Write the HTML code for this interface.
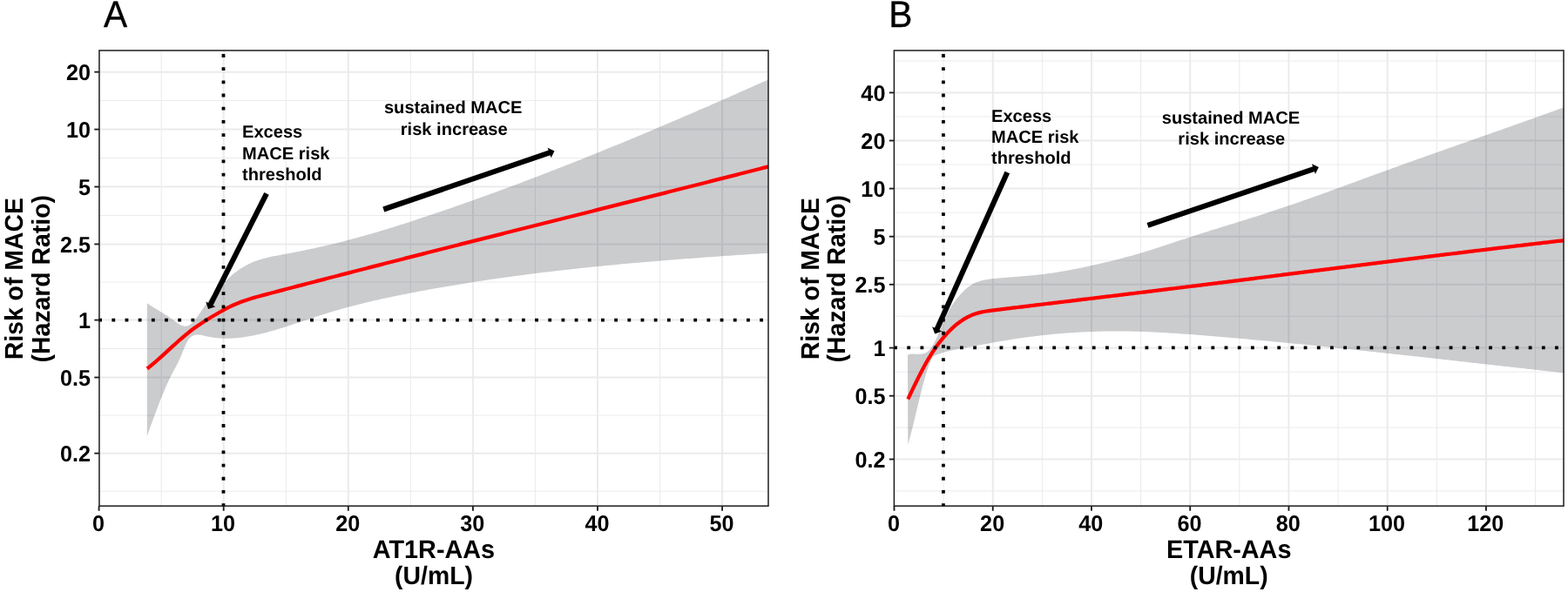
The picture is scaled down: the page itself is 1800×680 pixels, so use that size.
<!DOCTYPE html>
<html lang="en">
<head>
<meta charset="utf-8">
<title>Risk of MACE by AT1R-AAs and ETAR-AAs</title>
<style>
html,body{margin:0;padding:0;background:#fff;}
body{width:1800px;height:680px;overflow:hidden;}
svg{display:block;}
text{font-family:'Liberation Sans', Arial, Helvetica, sans-serif;fill:#000;font-kerning:none;text-rendering:geometricPrecision;}
.tl{font-size:25.2px;font-weight:bold;}
.at{font-size:28.4px;font-weight:bold;}
.ax{font-size:28.8px;font-weight:bold;font-kerning:normal;}
.an{font-size:20.1px;font-weight:bold;}
.tag{font-size:40.7px;font-weight:normal;stroke:#000;stroke-width:0.35px;}
</style>
</head>
<body>
<svg width="1800" height="680" viewBox="0 0 1800 680">
<rect x="0" y="0" width="1800" height="680" fill="#fff"/>
<g>
<rect x="113.95" y="58" width="768.05" height="523.2" fill="#fff"/>
<g class="grid"><line x1="113.95" x2="882" y1="115.64" y2="115.64" stroke="#ebebee" stroke-width="1"/><line x1="113.95" x2="882" y1="181.56" y2="181.56" stroke="#ebebee" stroke-width="1"/><line x1="113.95" x2="882" y1="247.49" y2="247.49" stroke="#ebebee" stroke-width="1"/><line x1="113.95" x2="882" y1="324.03" y2="324.03" stroke="#ebebee" stroke-width="1"/><line x1="113.95" x2="882" y1="400.56" y2="400.56" stroke="#ebebee" stroke-width="1"/><line x1="113.95" x2="882" y1="477.1" y2="477.1" stroke="#ebebee" stroke-width="1"/><line x1="113.95" x2="882" y1="564.25" y2="564.25" stroke="#ebebee" stroke-width="1"/><line x1="185.15" x2="185.15" y1="58" y2="581.2" stroke="#ebebee" stroke-width="1"/><line x1="328.25" x2="328.25" y1="58" y2="581.2" stroke="#ebebee" stroke-width="1"/><line x1="471.35" x2="471.35" y1="58" y2="581.2" stroke="#ebebee" stroke-width="1"/><line x1="614.45" x2="614.45" y1="58" y2="581.2" stroke="#ebebee" stroke-width="1"/><line x1="757.55" x2="757.55" y1="58" y2="581.2" stroke="#ebebee" stroke-width="1"/><line x1="113.95" x2="882" y1="82.67" y2="82.67" stroke="#ebebee" stroke-width="2"/><line x1="113.95" x2="882" y1="148.6" y2="148.6" stroke="#ebebee" stroke-width="2"/><line x1="113.95" x2="882" y1="214.53" y2="214.53" stroke="#ebebee" stroke-width="2"/><line x1="113.95" x2="882" y1="280.45" y2="280.45" stroke="#ebebee" stroke-width="2"/><line x1="113.95" x2="882" y1="367.6" y2="367.6" stroke="#ebebee" stroke-width="2"/><line x1="113.95" x2="882" y1="433.53" y2="433.53" stroke="#ebebee" stroke-width="2"/><line x1="113.95" x2="882" y1="520.67" y2="520.67" stroke="#ebebee" stroke-width="2"/><line x1="256.7" x2="256.7" y1="58" y2="581.2" stroke="#ebebee" stroke-width="2"/><line x1="399.8" x2="399.8" y1="58" y2="581.2" stroke="#ebebee" stroke-width="2"/><line x1="542.9" x2="542.9" y1="58" y2="581.2" stroke="#ebebee" stroke-width="2"/><line x1="686" x2="686" y1="58" y2="581.2" stroke="#ebebee" stroke-width="2"/><line x1="829.1" x2="829.1" y1="58" y2="581.2" stroke="#ebebee" stroke-width="2"/></g>
<path class="ribbon" d="M168.8 348.2 L171.8 350.2 L174.79 352.13 L177.79 354 L180.79 355.84 L183.78 357.68 L186.78 359.53 L189.78 361.42 L192.77 363.37 L195.77 365.4 L198.77 367.54 L201.76 369.76 L204.76 371.86 L207.76 373.56 L210.75 374.62 L213.75 374.77 L216.75 373.78 L219.74 371.68 L222.74 368.69 L225.74 364.99 L228.73 360.82 L231.73 356.37 L234.73 351.85 L237.72 347.47 L240.72 343.34 L243.72 339.45 L246.71 335.8 L249.71 332.37 L252.71 329.15 L255.7 326.07 L258.7 323.07 L261.7 320.14 L264.69 317.38 L267.69 314.81 L270.69 312.43 L273.68 310.25 L276.68 308.24 L279.68 306.4 L282.67 304.71 L285.67 303.18 L288.67 301.79 L291.66 300.53 L294.66 299.4 L297.66 298.38 L300.65 297.46 L303.65 296.64 L306.65 295.9 L309.64 295.22 L312.64 294.6 L315.64 294.01 L318.63 293.45 L321.63 292.9 L324.63 292.35 L327.62 291.8 L330.62 291.24 L333.62 290.67 L336.61 290.09 L339.61 289.51 L342.61 288.92 L345.6 288.32 L348.6 287.71 L351.59 287.1 L354.59 286.47 L357.59 285.84 L360.58 285.19 L363.58 284.54 L366.58 283.87 L369.57 283.2 L372.57 282.51 L375.57 281.81 L378.56 281.1 L381.56 280.38 L384.56 279.65 L387.55 278.91 L390.55 278.15 L393.55 277.39 L396.54 276.62 L399.54 275.84 L402.54 275.04 L405.53 274.24 L408.53 273.43 L411.53 272.61 L414.52 271.78 L417.52 270.94 L420.52 270.1 L423.51 269.24 L426.51 268.38 L429.51 267.51 L432.5 266.63 L435.5 265.74 L438.5 264.84 L441.49 263.94 L444.49 263.03 L447.49 262.11 L450.48 261.19 L453.48 260.26 L456.48 259.32 L459.47 258.37 L462.47 257.42 L465.47 256.47 L468.46 255.5 L471.46 254.53 L474.46 253.56 L477.45 252.58 L480.45 251.6 L483.45 250.6 L486.44 249.61 L489.44 248.61 L492.44 247.6 L495.43 246.6 L498.43 245.58 L501.43 244.56 L504.42 243.54 L507.42 242.52 L510.42 241.49 L513.41 240.45 L516.41 239.42 L519.41 238.38 L522.4 237.33 L525.4 236.29 L528.4 235.24 L531.39 234.18 L534.39 233.12 L537.39 232.06 L540.38 231 L543.38 229.93 L546.38 228.86 L549.37 227.78 L552.37 226.7 L555.37 225.62 L558.36 224.54 L561.36 223.45 L564.36 222.36 L567.35 221.26 L570.35 220.16 L573.35 219.06 L576.34 217.96 L579.34 216.85 L582.34 215.74 L585.33 214.62 L588.33 213.5 L591.33 212.38 L594.32 211.26 L597.32 210.13 L600.32 209 L603.31 207.87 L606.31 206.73 L609.31 205.59 L612.3 204.45 L615.3 203.3 L618.3 202.15 L621.29 201 L624.29 199.84 L627.29 198.69 L630.28 197.53 L633.28 196.36 L636.28 195.2 L639.27 194.03 L642.27 192.85 L645.27 191.68 L648.26 190.5 L651.26 189.32 L654.26 188.14 L657.25 186.95 L660.25 185.76 L663.25 184.57 L666.24 183.38 L669.24 182.18 L672.24 180.98 L675.23 179.78 L678.23 178.57 L681.23 177.36 L684.22 176.15 L687.22 174.94 L690.22 173.72 L693.21 172.51 L696.21 171.28 L699.21 170.06 L702.2 168.84 L705.2 167.61 L708.19 166.38 L711.19 165.14 L714.19 163.91 L717.18 162.67 L720.18 161.43 L723.18 160.19 L726.17 158.94 L729.17 157.69 L732.17 156.44 L735.16 155.19 L738.16 153.94 L741.16 152.68 L744.15 151.42 L747.15 150.16 L750.15 148.9 L753.14 147.63 L756.14 146.37 L759.14 145.1 L762.13 143.82 L765.13 142.55 L768.13 141.27 L771.12 140 L774.12 138.72 L777.12 137.43 L780.11 136.15 L783.11 134.86 L786.11 133.57 L789.1 132.28 L792.1 130.99 L795.1 129.7 L798.09 128.4 L801.09 127.1 L804.09 125.8 L807.08 124.5 L810.08 123.2 L813.08 121.89 L816.07 120.58 L819.07 119.28 L822.07 117.96 L825.06 116.65 L828.06 115.34 L831.06 114.02 L834.05 112.7 L837.05 111.38 L840.05 110.06 L843.04 108.74 L846.04 107.42 L849.04 106.09 L852.03 104.76 L855.03 103.43 L858.03 102.1 L861.02 100.77 L864.02 99.44 L867.02 98.1 L870.01 96.76 L873.01 95.43 L876.01 94.09 L879 92.74 L882 91.4 L882 290.7 L879 290.89 L876.01 291.09 L873.01 291.28 L870.01 291.47 L867.02 291.67 L864.02 291.87 L861.02 292.06 L858.03 292.26 L855.03 292.46 L852.03 292.66 L849.04 292.86 L846.04 293.06 L843.04 293.26 L840.05 293.46 L837.05 293.67 L834.05 293.87 L831.06 294.08 L828.06 294.29 L825.06 294.49 L822.07 294.7 L819.07 294.92 L816.07 295.13 L813.08 295.34 L810.08 295.56 L807.08 295.77 L804.09 295.99 L801.09 296.21 L798.09 296.43 L795.1 296.65 L792.1 296.88 L789.1 297.1 L786.11 297.33 L783.11 297.56 L780.11 297.79 L777.12 298.02 L774.12 298.25 L771.12 298.49 L768.13 298.72 L765.13 298.96 L762.13 299.2 L759.14 299.45 L756.14 299.69 L753.14 299.94 L750.15 300.19 L747.15 300.44 L744.15 300.69 L741.16 300.94 L738.16 301.2 L735.16 301.46 L732.17 301.72 L729.17 301.98 L726.17 302.25 L723.18 302.52 L720.18 302.79 L717.18 303.06 L714.19 303.34 L711.19 303.61 L708.19 303.89 L705.2 304.18 L702.2 304.46 L699.21 304.75 L696.21 305.04 L693.21 305.33 L690.22 305.63 L687.22 305.92 L684.22 306.22 L681.23 306.53 L678.23 306.83 L675.23 307.14 L672.24 307.46 L669.24 307.77 L666.24 308.09 L663.25 308.41 L660.25 308.73 L657.25 309.06 L654.26 309.39 L651.26 309.72 L648.26 310.06 L645.27 310.4 L642.27 310.74 L639.27 311.08 L636.28 311.43 L633.28 311.78 L630.28 312.14 L627.29 312.5 L624.29 312.86 L621.29 313.23 L618.3 313.59 L615.3 313.97 L612.3 314.34 L609.31 314.72 L606.31 315.1 L603.31 315.49 L600.32 315.88 L597.32 316.27 L594.32 316.67 L591.33 317.07 L588.33 317.48 L585.33 317.89 L582.34 318.3 L579.34 318.72 L576.34 319.14 L573.35 319.56 L570.35 319.99 L567.35 320.42 L564.36 320.86 L561.36 321.3 L558.36 321.74 L555.37 322.19 L552.37 322.64 L549.37 323.1 L546.38 323.56 L543.38 324.03 L540.38 324.5 L537.39 324.97 L534.39 325.45 L531.39 325.93 L528.4 326.42 L525.4 326.91 L522.4 327.41 L519.41 327.91 L516.41 328.41 L513.41 328.92 L510.42 329.44 L507.42 329.96 L504.42 330.48 L501.43 331.01 L498.43 331.54 L495.43 332.08 L492.44 332.62 L489.44 333.17 L486.44 333.72 L483.45 334.28 L480.45 334.84 L477.45 335.41 L474.46 335.98 L471.46 336.56 L468.46 337.14 L465.47 337.73 L462.47 338.32 L459.47 338.92 L456.48 339.53 L453.48 340.14 L450.48 340.77 L447.49 341.39 L444.49 342.03 L441.49 342.67 L438.5 343.33 L435.5 343.99 L432.5 344.66 L429.51 345.35 L426.51 346.04 L423.51 346.74 L420.52 347.45 L417.52 348.18 L414.52 348.92 L411.53 349.67 L408.53 350.43 L405.53 351.2 L402.54 351.99 L399.54 352.79 L396.54 353.61 L393.55 354.44 L390.55 355.29 L387.55 356.15 L384.56 357.02 L381.56 357.92 L378.56 358.82 L375.57 359.75 L372.57 360.69 L369.57 361.65 L366.58 362.62 L363.58 363.6 L360.58 364.59 L357.59 365.59 L354.59 366.59 L351.59 367.6 L348.6 368.61 L345.6 369.61 L342.61 370.62 L339.61 371.61 L336.61 372.6 L333.62 373.58 L330.62 374.55 L327.62 375.51 L324.63 376.45 L321.63 377.37 L318.63 378.27 L315.64 379.15 L312.64 380.01 L309.64 380.84 L306.65 381.64 L303.65 382.41 L300.65 383.15 L297.66 383.86 L294.66 384.53 L291.66 385.16 L288.67 385.75 L285.67 386.29 L282.67 386.79 L279.68 387.24 L276.68 387.64 L273.68 387.98 L270.69 388.26 L267.69 388.48 L264.69 388.63 L261.7 388.72 L258.7 388.73 L255.7 388.67 L252.71 388.52 L249.71 388.3 L246.71 387.99 L243.72 387.58 L240.72 387.07 L237.72 386.45 L234.73 385.71 L231.73 384.97 L228.73 384.46 L225.74 384.39 L222.74 384.98 L219.74 386.47 L216.75 389.42 L213.75 394.53 L210.75 401.45 L207.76 409.02 L204.76 415.68 L201.76 421.48 L198.77 426.96 L195.77 432.64 L192.77 438.92 L189.78 445.77 L186.78 453.03 L183.78 460.56 L180.79 468.29 L177.79 476.21 L174.79 484.31 L171.8 492.57 L168.8 501 Z" fill="#00050f" fill-opacity="0.205"/>
<path class="fit" d="M168.9 423.5 L171.9 421.13 L174.89 418.67 L177.89 416.13 L180.88 413.52 L183.88 410.86 L186.88 408.16 L189.87 405.42 L192.87 402.67 L195.87 399.92 L198.86 397.17 L201.86 394.45 L204.85 391.76 L207.85 389.12 L210.85 386.54 L213.84 384.04 L216.84 381.62 L219.84 379.3 L222.83 377.08 L225.83 374.95 L228.82 372.91 L231.82 370.93 L234.82 369.01 L237.81 367.15 L240.81 365.31 L243.81 363.5 L246.8 361.72 L249.8 359.96 L252.79 358.25 L255.79 356.58 L258.79 354.96 L261.78 353.4 L264.78 351.92 L267.78 350.51 L270.77 349.19 L273.77 347.95 L276.76 346.79 L279.76 345.7 L282.76 344.67 L285.75 343.7 L288.75 342.78 L291.74 341.9 L294.74 341.05 L297.74 340.22 L300.73 339.42 L303.73 338.62 L306.73 337.83 L309.72 337.04 L312.72 336.25 L315.71 335.46 L318.71 334.67 L321.71 333.89 L324.7 333.1 L327.7 332.31 L330.7 331.52 L333.69 330.74 L336.69 329.95 L339.68 329.17 L342.68 328.39 L345.68 327.6 L348.67 326.82 L351.67 326.04 L354.67 325.26 L357.66 324.47 L360.66 323.69 L363.65 322.91 L366.65 322.13 L369.65 321.36 L372.64 320.58 L375.64 319.8 L378.64 319.02 L381.63 318.24 L384.63 317.47 L387.62 316.69 L390.62 315.92 L393.62 315.14 L396.61 314.37 L399.61 313.59 L402.61 312.82 L405.6 312.05 L408.6 311.27 L411.59 310.5 L414.59 309.73 L417.59 308.96 L420.58 308.19 L423.58 307.42 L426.57 306.65 L429.57 305.88 L432.57 305.11 L435.56 304.34 L438.56 303.57 L441.56 302.8 L444.55 302.03 L447.55 301.27 L450.54 300.5 L453.54 299.73 L456.54 298.97 L459.53 298.2 L462.53 297.44 L465.53 296.67 L468.52 295.91 L471.52 295.14 L474.51 294.38 L477.51 293.61 L480.51 292.85 L483.5 292.09 L486.5 291.33 L489.5 290.56 L492.49 289.8 L495.49 289.04 L498.48 288.28 L501.48 287.52 L504.48 286.76 L507.47 286 L510.47 285.24 L513.47 284.48 L516.46 283.72 L519.46 282.96 L522.45 282.2 L525.45 281.44 L528.45 280.68 L531.44 279.92 L534.44 279.16 L537.43 278.4 L540.43 277.65 L543.43 276.89 L546.42 276.13 L549.42 275.37 L552.42 274.62 L555.41 273.86 L558.41 273.1 L561.4 272.35 L564.4 271.59 L567.4 270.83 L570.39 270.08 L573.39 269.32 L576.39 268.57 L579.38 267.81 L582.38 267.06 L585.37 266.3 L588.37 265.55 L591.37 264.79 L594.36 264.04 L597.36 263.28 L600.36 262.53 L603.35 261.77 L606.35 261.02 L609.34 260.27 L612.34 259.51 L615.34 258.76 L618.33 258 L621.33 257.25 L624.33 256.5 L627.32 255.74 L630.32 254.99 L633.31 254.24 L636.31 253.48 L639.31 252.73 L642.3 251.98 L645.3 251.22 L648.29 250.47 L651.29 249.72 L654.29 248.96 L657.28 248.21 L660.28 247.46 L663.28 246.7 L666.27 245.95 L669.27 245.2 L672.26 244.44 L675.26 243.69 L678.26 242.94 L681.25 242.19 L684.25 241.43 L687.25 240.68 L690.24 239.93 L693.24 239.17 L696.23 238.42 L699.23 237.67 L702.23 236.91 L705.22 236.16 L708.22 235.4 L711.22 234.65 L714.21 233.9 L717.21 233.14 L720.2 232.39 L723.2 231.64 L726.2 230.88 L729.19 230.13 L732.19 229.37 L735.19 228.62 L738.18 227.86 L741.18 227.11 L744.17 226.35 L747.17 225.6 L750.17 224.84 L753.16 224.09 L756.16 223.33 L759.16 222.58 L762.15 221.82 L765.15 221.07 L768.14 220.31 L771.14 219.55 L774.14 218.8 L777.13 218.04 L780.13 217.28 L783.12 216.53 L786.12 215.77 L789.12 215.01 L792.11 214.25 L795.11 213.5 L798.11 212.74 L801.1 211.98 L804.1 211.22 L807.09 210.46 L810.09 209.7 L813.09 208.94 L816.08 208.18 L819.08 207.42 L822.08 206.66 L825.07 205.9 L828.07 205.14 L831.06 204.38 L834.06 203.62 L837.06 202.86 L840.05 202.1 L843.05 201.33 L846.05 200.57 L849.04 199.81 L852.04 199.05 L855.03 198.28 L858.03 197.52 L861.03 196.76 L864.02 195.99 L867.02 195.23 L870.02 194.46 L873.01 193.7 L876.01 192.93 L879 192.16 L882 191.4" fill="none" stroke="#ff0000" stroke-width="4.25" stroke-linejoin="round"/>
<line x1="113.2" x2="882" y1="367.55" y2="367.55" stroke="#000" stroke-width="3.8" stroke-dasharray="3.8 11.38" stroke-dashoffset="0"/>
<line x1="256.5" x2="256.5" y1="582" y2="58" stroke="#000" stroke-width="3.8" stroke-dasharray="3.8 11.38"/>
<line x1="306" y1="222.3" x2="241.35" y2="350.26" stroke="#000" stroke-width="6.1"/>
<polygon points="239,354.9 236.26,346.57 247.33,352.16" fill="#000"/>
<line x1="440.3" y1="240.5" x2="631.58" y2="175.18" stroke="#000" stroke-width="6.1"/>
<polygon points="636.5,173.5 632.64,181.37 628.63,169.64" fill="#000"/>
<rect x="113.95" y="58" width="768.05" height="523.2" fill="none" stroke="#1c1c1e" stroke-width="1.5"/>
<g class="ticks"><line x1="108.35" x2="113.95" y1="82.67" y2="82.67" stroke="#1c1c1e" stroke-width="1.85"/><line x1="108.35" x2="113.95" y1="148.6" y2="148.6" stroke="#1c1c1e" stroke-width="1.85"/><line x1="108.35" x2="113.95" y1="214.53" y2="214.53" stroke="#1c1c1e" stroke-width="1.85"/><line x1="108.35" x2="113.95" y1="280.45" y2="280.45" stroke="#1c1c1e" stroke-width="1.85"/><line x1="108.35" x2="113.95" y1="367.6" y2="367.6" stroke="#1c1c1e" stroke-width="1.85"/><line x1="108.35" x2="113.95" y1="433.53" y2="433.53" stroke="#1c1c1e" stroke-width="1.85"/><line x1="108.35" x2="113.95" y1="520.67" y2="520.67" stroke="#1c1c1e" stroke-width="1.85"/><line x1="113.6" x2="113.6" y1="581.2" y2="586.8" stroke="#1c1c1e" stroke-width="1.85"/><line x1="256.7" x2="256.7" y1="581.2" y2="586.8" stroke="#1c1c1e" stroke-width="1.85"/><line x1="399.8" x2="399.8" y1="581.2" y2="586.8" stroke="#1c1c1e" stroke-width="1.85"/><line x1="542.9" x2="542.9" y1="581.2" y2="586.8" stroke="#1c1c1e" stroke-width="1.85"/><line x1="686" x2="686" y1="581.2" y2="586.8" stroke="#1c1c1e" stroke-width="1.85"/><line x1="829.1" x2="829.1" y1="581.2" y2="586.8" stroke="#1c1c1e" stroke-width="1.85"/></g>
<text class="tl" transform="translate(103.95 91.87) scale(1 1.025)" text-anchor="end">20</text>
<text class="tl" transform="translate(103.95 157.8) scale(1 1.025)" text-anchor="end">10</text>
<text class="tl" transform="translate(103.95 223.73) scale(1 1.025)" text-anchor="end">5</text>
<text class="tl" transform="translate(103.95 289.65) scale(1 1.025)" text-anchor="end">2.5</text>
<text class="tl" transform="translate(103.95 376.8) scale(1 1.025)" text-anchor="end">1</text>
<text class="tl" transform="translate(103.95 442.73) scale(1 1.025)" text-anchor="end">0.5</text>
<text class="tl" transform="translate(103.95 529.87) scale(1 1.025)" text-anchor="end">0.2</text>
<text class="tl" transform="translate(113 609.7) scale(1 1.025)" text-anchor="middle">0</text>
<text class="tl" transform="translate(256.1 609.7) scale(1 1.025)" text-anchor="middle">10</text>
<text class="tl" transform="translate(399.2 609.7) scale(1 1.025)" text-anchor="middle">20</text>
<text class="tl" transform="translate(542.3 609.7) scale(1 1.025)" text-anchor="middle">30</text>
<text class="tl" transform="translate(685.4 609.7) scale(1 1.025)" text-anchor="middle">40</text>
<text class="tl" transform="translate(828.5 609.7) scale(1 1.025)" text-anchor="middle">50</text>
<text class="ax" transform="translate(497.98 640.7) scale(1 1.025)" text-anchor="middle">AT1R-AAs</text>
<text class="at" transform="translate(497.98 671) scale(1 1.03)" text-anchor="middle">(U/mL)</text>
<text class="at" transform="translate(25.9 320.2) rotate(-90) scale(1 1.03)" text-anchor="middle">Risk of MACE</text>
<text class="at" transform="translate(57.05 320.2) rotate(-90) scale(1 1.03)" text-anchor="middle">(Hazard Ratio)</text>
<text class="tag" transform="translate(118.9 30.9) scale(1 1.05)" text-anchor="start">A</text>
<text class="an" transform="translate(278 158.4)" text-anchor="start">Excess</text>
<text class="an" transform="translate(278 182.5)" text-anchor="start">MACE risk</text>
<text class="an" transform="translate(278 206.5)" text-anchor="start">threshold</text>
<text class="an" transform="translate(520.2 129.8)" text-anchor="middle">sustained MACE</text>
<text class="an" transform="translate(521.2 154.6)" text-anchor="middle">risk increase</text>
</g>
<g>
<rect x="1026.4" y="58" width="768.6" height="523.2" fill="#fff"/>
<g class="grid"><line x1="1026.4" x2="1795" y1="133.97" y2="133.97" stroke="#ebebee" stroke-width="1"/><line x1="1026.4" x2="1795" y1="189.06" y2="189.06" stroke="#ebebee" stroke-width="1"/><line x1="1026.4" x2="1795" y1="244.14" y2="244.14" stroke="#ebebee" stroke-width="1"/><line x1="1026.4" x2="1795" y1="299.23" y2="299.23" stroke="#ebebee" stroke-width="1"/><line x1="1026.4" x2="1795" y1="363.19" y2="363.19" stroke="#ebebee" stroke-width="1"/><line x1="1026.4" x2="1795" y1="427.14" y2="427.14" stroke="#ebebee" stroke-width="1"/><line x1="1026.4" x2="1795" y1="491.1" y2="491.1" stroke="#ebebee" stroke-width="1"/><line x1="1026.4" x2="1795" y1="563.92" y2="563.92" stroke="#ebebee" stroke-width="1"/><line x1="1026.4" x2="1795" y1="70" y2="70" stroke="#ebebee" stroke-width="1"/><line x1="1083.12" x2="1083.12" y1="58" y2="581.2" stroke="#ebebee" stroke-width="1"/><line x1="1196.36" x2="1196.36" y1="58" y2="581.2" stroke="#ebebee" stroke-width="1"/><line x1="1309.6" x2="1309.6" y1="58" y2="581.2" stroke="#ebebee" stroke-width="1"/><line x1="1422.84" x2="1422.84" y1="58" y2="581.2" stroke="#ebebee" stroke-width="1"/><line x1="1536.08" x2="1536.08" y1="58" y2="581.2" stroke="#ebebee" stroke-width="1"/><line x1="1649.32" x2="1649.32" y1="58" y2="581.2" stroke="#ebebee" stroke-width="1"/><line x1="1762.56" x2="1762.56" y1="58" y2="581.2" stroke="#ebebee" stroke-width="1"/><line x1="1026.4" x2="1795" y1="106.42" y2="106.42" stroke="#ebebee" stroke-width="2"/><line x1="1026.4" x2="1795" y1="161.51" y2="161.51" stroke="#ebebee" stroke-width="2"/><line x1="1026.4" x2="1795" y1="216.6" y2="216.6" stroke="#ebebee" stroke-width="2"/><line x1="1026.4" x2="1795" y1="271.69" y2="271.69" stroke="#ebebee" stroke-width="2"/><line x1="1026.4" x2="1795" y1="326.78" y2="326.78" stroke="#ebebee" stroke-width="2"/><line x1="1026.4" x2="1795" y1="399.6" y2="399.6" stroke="#ebebee" stroke-width="2"/><line x1="1026.4" x2="1795" y1="454.69" y2="454.69" stroke="#ebebee" stroke-width="2"/><line x1="1026.4" x2="1795" y1="527.51" y2="527.51" stroke="#ebebee" stroke-width="2"/><line x1="1139.74" x2="1139.74" y1="58" y2="581.2" stroke="#ebebee" stroke-width="2"/><line x1="1252.98" x2="1252.98" y1="58" y2="581.2" stroke="#ebebee" stroke-width="2"/><line x1="1366.22" x2="1366.22" y1="58" y2="581.2" stroke="#ebebee" stroke-width="2"/><line x1="1479.46" x2="1479.46" y1="58" y2="581.2" stroke="#ebebee" stroke-width="2"/><line x1="1592.7" x2="1592.7" y1="58" y2="581.2" stroke="#ebebee" stroke-width="2"/><line x1="1705.94" x2="1705.94" y1="58" y2="581.2" stroke="#ebebee" stroke-width="2"/></g>
<path class="ribbon" d="M1042 407.4 L1045 406.67 L1048 406.5 L1051 406.63 L1054 406.82 L1057 406.81 L1060 406.37 L1063 405.23 L1066 403.12 L1069 399.7 L1072 394.82 L1075 388.8 L1078 382.07 L1081 375.02 L1084 368.08 L1087 361.54 L1090 355.59 L1093 350.37 L1096 345.98 L1099 342.21 L1102 338.74 L1105 335.53 L1108 332.62 L1111 330.06 L1114 327.89 L1117 326.08 L1120 324.59 L1123 323.4 L1126 322.45 L1129 321.7 L1132 321.13 L1135 320.68 L1138 320.33 L1141 320.02 L1144 319.74 L1147 319.47 L1150 319.21 L1153 318.96 L1156 318.72 L1159 318.48 L1162 318.25 L1165 318.02 L1168 317.78 L1171 317.54 L1174 317.3 L1177 317.05 L1180 316.79 L1183 316.52 L1186 316.24 L1189 315.94 L1192 315.62 L1195 315.28 L1198 314.91 L1201 314.53 L1204 314.12 L1207 313.69 L1210 313.24 L1213 312.77 L1216 312.28 L1219 311.78 L1222 311.25 L1225 310.71 L1228 310.16 L1231 309.59 L1234 309 L1237 308.4 L1240 307.79 L1243 307.17 L1246 306.53 L1249 305.89 L1252 305.23 L1255 304.57 L1258 303.9 L1261 303.22 L1264 302.53 L1267 301.83 L1270 301.12 L1273 300.4 L1276 299.67 L1279 298.93 L1282 298.18 L1285 297.41 L1288 296.63 L1291 295.84 L1294 295.04 L1297 294.22 L1300 293.38 L1303 292.54 L1306 291.68 L1309 290.8 L1312 289.9 L1315 289 L1318 288.07 L1321 287.14 L1324 286.19 L1327 285.24 L1330 284.27 L1333 283.3 L1336 282.32 L1339 281.33 L1342 280.34 L1345 279.35 L1348 278.36 L1351 277.36 L1354 276.37 L1357 275.37 L1360 274.38 L1363 273.4 L1366 272.42 L1369 271.44 L1372 270.47 L1375 269.51 L1378 268.55 L1381 267.6 L1384 266.65 L1387 265.71 L1390 264.77 L1393 263.83 L1396 262.89 L1399 261.96 L1402 261.03 L1405 260.1 L1408 259.17 L1411 258.24 L1414 257.31 L1417 256.38 L1420 255.45 L1423 254.52 L1426 253.59 L1429 252.65 L1432 251.71 L1435 250.77 L1438 249.83 L1441 248.88 L1444 247.93 L1447 246.97 L1450 246.01 L1453 245.04 L1456 244.07 L1459 243.09 L1462 242.1 L1465 241.11 L1468 240.11 L1471 239.1 L1474 238.09 L1477 237.07 L1480 236.05 L1483 235.02 L1486 233.98 L1489 232.94 L1492 231.89 L1495 230.84 L1498 229.79 L1501 228.73 L1504 227.67 L1507 226.6 L1510 225.53 L1513 224.46 L1516 223.38 L1519 222.3 L1522 221.21 L1525 220.13 L1528 219.04 L1531 217.95 L1534 216.85 L1537 215.76 L1540 214.66 L1543 213.57 L1546 212.47 L1549 211.37 L1552 210.27 L1555 209.16 L1558 208.06 L1561 206.96 L1564 205.86 L1567 204.76 L1570 203.66 L1573 202.55 L1576 201.46 L1579 200.36 L1582 199.26 L1585 198.16 L1588 197.07 L1591 195.98 L1594 194.89 L1597 193.8 L1600 192.71 L1603 191.63 L1606 190.55 L1609 189.47 L1612 188.39 L1615 187.31 L1618 186.24 L1621 185.16 L1624 184.09 L1627 183.02 L1630 181.95 L1633 180.88 L1636 179.82 L1639 178.75 L1642 177.69 L1645 176.63 L1648 175.56 L1651 174.5 L1654 173.44 L1657 172.38 L1660 171.33 L1663 170.27 L1666 169.21 L1669 168.16 L1672 167.1 L1675 166.04 L1678 164.99 L1681 163.93 L1684 162.88 L1687 161.82 L1690 160.77 L1693 159.72 L1696 158.66 L1699 157.61 L1702 156.55 L1705 155.5 L1708 154.44 L1711 153.39 L1714 152.33 L1717 151.27 L1720 150.22 L1723 149.16 L1726 148.1 L1729 147.04 L1732 145.98 L1735 144.92 L1738 143.86 L1741 142.79 L1744 141.73 L1747 140.66 L1750 139.59 L1753 138.53 L1756 137.46 L1759 136.39 L1762 135.31 L1765 134.24 L1768 133.16 L1771 132.09 L1774 131.01 L1777 129.92 L1780 128.84 L1783 127.76 L1786 126.67 L1789 125.58 L1792 124.49 L1795 123.39 L1795 428.3 L1792 427.97 L1789 427.64 L1786 427.31 L1783 426.98 L1780.01 426.65 L1777.01 426.32 L1774.01 425.99 L1771.01 425.66 L1768.01 425.33 L1765.01 425 L1762.01 424.67 L1759.01 424.34 L1756.02 424 L1753.02 423.67 L1750.02 423.34 L1747.02 423 L1744.02 422.67 L1741.02 422.34 L1738.02 422 L1735.02 421.67 L1732.03 421.33 L1729.03 421 L1726.03 420.66 L1723.03 420.33 L1720.03 419.99 L1717.03 419.65 L1714.03 419.32 L1711.03 418.98 L1708.03 418.65 L1705.04 418.31 L1702.04 417.97 L1699.04 417.64 L1696.04 417.3 L1693.04 416.97 L1690.04 416.63 L1687.04 416.29 L1684.04 415.96 L1681.05 415.62 L1678.05 415.29 L1675.05 414.95 L1672.05 414.61 L1669.05 414.28 L1666.05 413.94 L1663.05 413.61 L1660.05 413.27 L1657.05 412.94 L1654.06 412.6 L1651.06 412.27 L1648.06 411.93 L1645.06 411.6 L1642.06 411.27 L1639.06 410.93 L1636.06 410.6 L1633.06 410.27 L1630.07 409.94 L1627.07 409.6 L1624.07 409.27 L1621.07 408.94 L1618.07 408.61 L1615.07 408.28 L1612.07 407.95 L1609.07 407.62 L1606.08 407.29 L1603.08 406.96 L1600.08 406.63 L1597.08 406.31 L1594.08 405.98 L1591.08 405.65 L1588.08 405.33 L1585.08 405 L1582.08 404.68 L1579.09 404.36 L1576.09 404.03 L1573.09 403.71 L1570.09 403.39 L1567.09 403.07 L1564.09 402.75 L1561.09 402.43 L1558.09 402.11 L1555.1 401.79 L1552.1 401.47 L1549.1 401.16 L1546.1 400.84 L1543.1 400.53 L1540.1 400.21 L1537.1 399.9 L1534.1 399.59 L1531.11 399.28 L1528.11 398.97 L1525.11 398.66 L1522.11 398.35 L1519.11 398.04 L1516.11 397.73 L1513.11 397.43 L1510.11 397.12 L1507.11 396.82 L1504.12 396.52 L1501.12 396.22 L1498.12 395.92 L1495.12 395.62 L1492.12 395.32 L1489.12 395.02 L1486.12 394.73 L1483.12 394.43 L1480.13 394.14 L1477.13 393.85 L1474.13 393.56 L1471.13 393.27 L1468.13 392.98 L1465.13 392.69 L1462.13 392.41 L1459.13 392.12 L1456.14 391.84 L1453.14 391.56 L1450.14 391.28 L1447.14 391 L1444.14 390.72 L1441.14 390.44 L1438.14 390.17 L1435.14 389.9 L1432.14 389.62 L1429.15 389.35 L1426.15 389.08 L1423.15 388.82 L1420.15 388.55 L1417.15 388.29 L1414.15 388.02 L1411.15 387.76 L1408.15 387.5 L1405.16 387.25 L1402.16 386.99 L1399.16 386.73 L1396.16 386.48 L1393.16 386.23 L1390.16 385.98 L1387.16 385.73 L1384.16 385.49 L1381.16 385.25 L1378.17 385.01 L1375.17 384.77 L1372.17 384.54 L1369.17 384.31 L1366.17 384.08 L1363.17 383.86 L1360.17 383.65 L1357.17 383.43 L1354.18 383.23 L1351.18 383.03 L1348.18 382.83 L1345.18 382.64 L1342.18 382.45 L1339.18 382.28 L1336.18 382.11 L1333.18 381.94 L1330.19 381.78 L1327.19 381.63 L1324.19 381.49 L1321.19 381.36 L1318.19 381.23 L1315.19 381.11 L1312.19 381.01 L1309.19 380.91 L1306.19 380.82 L1303.2 380.73 L1300.2 380.66 L1297.2 380.6 L1294.2 380.55 L1291.2 380.51 L1288.2 380.48 L1285.2 380.46 L1282.2 380.45 L1279.21 380.46 L1276.21 380.48 L1273.21 380.5 L1270.21 380.54 L1267.21 380.59 L1264.21 380.66 L1261.21 380.73 L1258.21 380.82 L1255.22 380.92 L1252.22 381.03 L1249.22 381.15 L1246.22 381.28 L1243.22 381.43 L1240.22 381.58 L1237.22 381.75 L1234.22 381.93 L1231.22 382.13 L1228.23 382.33 L1225.23 382.55 L1222.23 382.77 L1219.23 383.01 L1216.23 383.26 L1213.23 383.53 L1210.23 383.8 L1207.23 384.09 L1204.24 384.38 L1201.24 384.69 L1198.24 385.01 L1195.24 385.35 L1192.24 385.69 L1189.24 386.05 L1186.24 386.42 L1183.24 386.8 L1180.25 387.19 L1177.25 387.59 L1174.25 388.01 L1171.25 388.43 L1168.25 388.87 L1165.25 389.32 L1162.25 389.78 L1159.25 390.26 L1156.25 390.74 L1153.26 391.24 L1150.26 391.74 L1147.26 392.26 L1144.26 392.78 L1141.26 393.31 L1138.26 393.85 L1135.26 394.39 L1132.26 394.94 L1129.27 395.5 L1126.27 396.05 L1123.27 396.61 L1120.27 397.17 L1117.27 397.73 L1114.27 398.29 L1111.27 398.86 L1108.27 399.42 L1105.27 399.98 L1102.28 400.54 L1099.28 401.11 L1096.28 401.71 L1093.28 402.35 L1090.28 403.03 L1087.28 403.76 L1084.28 404.56 L1081.28 405.43 L1078.29 406.38 L1075.29 407.43 L1072.29 408.64 L1069.29 412.37 L1066.29 419.98 L1063.29 428.87 L1060.29 439 L1057.29 450.45 L1054.3 462.76 L1051.3 475.42 L1048.3 487.97 L1045.3 499.89 L1042.3 510.7 Z" fill="#00050f" fill-opacity="0.205"/>
<path class="fit" d="M1042.3 458.51 L1045.3 452.21 L1048.3 445.92 L1051.3 439.71 L1054.3 433.61 L1057.29 427.69 L1060.29 421.98 L1063.29 416.53 L1066.29 411.37 L1069.29 406.5 L1072.29 401.91 L1075.29 397.61 L1078.29 393.56 L1081.28 389.77 L1084.28 386.21 L1087.28 382.87 L1090.28 379.75 L1093.28 376.85 L1096.28 374.18 L1099.28 371.71 L1102.28 369.46 L1105.27 367.43 L1108.27 365.6 L1111.27 363.99 L1114.27 362.56 L1117.27 361.33 L1120.27 360.26 L1123.27 359.36 L1126.27 358.62 L1129.27 358 L1132.26 357.5 L1135.26 357.06 L1138.26 356.67 L1141.26 356.3 L1144.26 355.94 L1147.26 355.57 L1150.26 355.2 L1153.26 354.83 L1156.25 354.47 L1159.25 354.1 L1162.25 353.73 L1165.25 353.37 L1168.25 353 L1171.25 352.64 L1174.25 352.27 L1177.25 351.91 L1180.25 351.55 L1183.24 351.18 L1186.24 350.82 L1189.24 350.46 L1192.24 350.1 L1195.24 349.74 L1198.24 349.37 L1201.24 349.01 L1204.24 348.65 L1207.23 348.29 L1210.23 347.93 L1213.23 347.57 L1216.23 347.21 L1219.23 346.85 L1222.23 346.49 L1225.23 346.13 L1228.23 345.77 L1231.22 345.41 L1234.22 345.05 L1237.22 344.69 L1240.22 344.33 L1243.22 343.97 L1246.22 343.61 L1249.22 343.25 L1252.22 342.89 L1255.22 342.53 L1258.21 342.17 L1261.21 341.81 L1264.21 341.45 L1267.21 341.09 L1270.21 340.73 L1273.21 340.37 L1276.21 340 L1279.21 339.64 L1282.2 339.28 L1285.2 338.92 L1288.2 338.56 L1291.2 338.2 L1294.2 337.83 L1297.2 337.47 L1300.2 337.11 L1303.2 336.74 L1306.19 336.38 L1309.19 336.01 L1312.19 335.65 L1315.19 335.28 L1318.19 334.92 L1321.19 334.55 L1324.19 334.18 L1327.19 333.82 L1330.19 333.45 L1333.18 333.08 L1336.18 332.71 L1339.18 332.34 L1342.18 331.97 L1345.18 331.6 L1348.18 331.24 L1351.18 330.87 L1354.18 330.49 L1357.17 330.12 L1360.17 329.75 L1363.17 329.38 L1366.17 329.01 L1369.17 328.64 L1372.17 328.27 L1375.17 327.89 L1378.17 327.52 L1381.16 327.15 L1384.16 326.77 L1387.16 326.4 L1390.16 326.03 L1393.16 325.65 L1396.16 325.28 L1399.16 324.9 L1402.16 324.53 L1405.16 324.15 L1408.15 323.78 L1411.15 323.4 L1414.15 323.03 L1417.15 322.65 L1420.15 322.28 L1423.15 321.9 L1426.15 321.52 L1429.15 321.15 L1432.14 320.77 L1435.14 320.39 L1438.14 320.02 L1441.14 319.64 L1444.14 319.26 L1447.14 318.88 L1450.14 318.51 L1453.14 318.13 L1456.14 317.75 L1459.13 317.37 L1462.13 317 L1465.13 316.62 L1468.13 316.24 L1471.13 315.86 L1474.13 315.48 L1477.13 315.11 L1480.13 314.73 L1483.12 314.35 L1486.12 313.97 L1489.12 313.59 L1492.12 313.22 L1495.12 312.84 L1498.12 312.46 L1501.12 312.08 L1504.12 311.7 L1507.11 311.32 L1510.11 310.95 L1513.11 310.57 L1516.11 310.19 L1519.11 309.81 L1522.11 309.43 L1525.11 309.06 L1528.11 308.68 L1531.11 308.3 L1534.1 307.92 L1537.1 307.55 L1540.1 307.17 L1543.1 306.79 L1546.1 306.41 L1549.1 306.04 L1552.1 305.66 L1555.1 305.28 L1558.09 304.91 L1561.09 304.53 L1564.09 304.15 L1567.09 303.78 L1570.09 303.4 L1573.09 303.02 L1576.09 302.65 L1579.09 302.27 L1582.08 301.9 L1585.08 301.52 L1588.08 301.15 L1591.08 300.77 L1594.08 300.4 L1597.08 300.02 L1600.08 299.65 L1603.08 299.28 L1606.08 298.9 L1609.07 298.53 L1612.07 298.16 L1615.07 297.78 L1618.07 297.41 L1621.07 297.04 L1624.07 296.67 L1627.07 296.3 L1630.07 295.93 L1633.06 295.56 L1636.06 295.18 L1639.06 294.81 L1642.06 294.44 L1645.06 294.07 L1648.06 293.71 L1651.06 293.34 L1654.06 292.97 L1657.05 292.6 L1660.05 292.23 L1663.05 291.87 L1666.05 291.5 L1669.05 291.13 L1672.05 290.77 L1675.05 290.4 L1678.05 290.04 L1681.05 289.67 L1684.04 289.31 L1687.04 288.94 L1690.04 288.58 L1693.04 288.22 L1696.04 287.85 L1699.04 287.49 L1702.04 287.13 L1705.04 286.77 L1708.03 286.41 L1711.03 286.05 L1714.03 285.69 L1717.03 285.33 L1720.03 284.97 L1723.03 284.61 L1726.03 284.25 L1729.03 283.9 L1732.03 283.54 L1735.02 283.19 L1738.02 282.83 L1741.02 282.48 L1744.02 282.12 L1747.02 281.77 L1750.02 281.41 L1753.02 281.06 L1756.02 280.71 L1759.01 280.36 L1762.01 280.01 L1765.01 279.66 L1768.01 279.31 L1771.01 278.96 L1774.01 278.61 L1777.01 278.27 L1780.01 277.92 L1783 277.57 L1786 277.23 L1789 276.88 L1792 276.54 L1795 276.2" fill="none" stroke="#ff0000" stroke-width="4.25" stroke-linejoin="round"/>
<line x1="1026.1" x2="1795" y1="399.4" y2="399.4" stroke="#000" stroke-width="3.8" stroke-dasharray="3.8 11.38" stroke-dashoffset="0"/>
<line x1="1082.9" x2="1082.9" y1="582" y2="58" stroke="#000" stroke-width="3.8" stroke-dasharray="3.8 11.38"/>
<line x1="1156.3" y1="198" x2="1075.33" y2="378.75" stroke="#000" stroke-width="6.1"/>
<polygon points="1073.2,383.5 1070.08,375.31 1081.39,380.38" fill="#000"/>
<line x1="1317.5" y1="258.8" x2="1508.88" y2="193.77" stroke="#000" stroke-width="6.1"/>
<polygon points="1513.8,192.1 1509.92,199.97 1505.93,188.22" fill="#000"/>
<rect x="1026.4" y="58" width="768.6" height="523.2" fill="none" stroke="#1c1c1e" stroke-width="1.5"/>
<g class="ticks"><line x1="1020.8" x2="1026.4" y1="106.42" y2="106.42" stroke="#1c1c1e" stroke-width="1.85"/><line x1="1020.8" x2="1026.4" y1="161.51" y2="161.51" stroke="#1c1c1e" stroke-width="1.85"/><line x1="1020.8" x2="1026.4" y1="216.6" y2="216.6" stroke="#1c1c1e" stroke-width="1.85"/><line x1="1020.8" x2="1026.4" y1="271.69" y2="271.69" stroke="#1c1c1e" stroke-width="1.85"/><line x1="1020.8" x2="1026.4" y1="326.78" y2="326.78" stroke="#1c1c1e" stroke-width="1.85"/><line x1="1020.8" x2="1026.4" y1="399.6" y2="399.6" stroke="#1c1c1e" stroke-width="1.85"/><line x1="1020.8" x2="1026.4" y1="454.69" y2="454.69" stroke="#1c1c1e" stroke-width="1.85"/><line x1="1020.8" x2="1026.4" y1="527.51" y2="527.51" stroke="#1c1c1e" stroke-width="1.85"/><line x1="1026.5" x2="1026.5" y1="581.2" y2="586.8" stroke="#1c1c1e" stroke-width="1.85"/><line x1="1139.74" x2="1139.74" y1="581.2" y2="586.8" stroke="#1c1c1e" stroke-width="1.85"/><line x1="1252.98" x2="1252.98" y1="581.2" y2="586.8" stroke="#1c1c1e" stroke-width="1.85"/><line x1="1366.22" x2="1366.22" y1="581.2" y2="586.8" stroke="#1c1c1e" stroke-width="1.85"/><line x1="1479.46" x2="1479.46" y1="581.2" y2="586.8" stroke="#1c1c1e" stroke-width="1.85"/><line x1="1592.7" x2="1592.7" y1="581.2" y2="586.8" stroke="#1c1c1e" stroke-width="1.85"/><line x1="1705.94" x2="1705.94" y1="581.2" y2="586.8" stroke="#1c1c1e" stroke-width="1.85"/></g>
<text class="tl" transform="translate(1016.4 115.62) scale(1 1.025)" text-anchor="end">40</text>
<text class="tl" transform="translate(1016.4 170.71) scale(1 1.025)" text-anchor="end">20</text>
<text class="tl" transform="translate(1016.4 225.8) scale(1 1.025)" text-anchor="end">10</text>
<text class="tl" transform="translate(1016.4 280.89) scale(1 1.025)" text-anchor="end">5</text>
<text class="tl" transform="translate(1016.4 335.98) scale(1 1.025)" text-anchor="end">2.5</text>
<text class="tl" transform="translate(1016.4 408.8) scale(1 1.025)" text-anchor="end">1</text>
<text class="tl" transform="translate(1016.4 463.89) scale(1 1.025)" text-anchor="end">0.5</text>
<text class="tl" transform="translate(1016.4 536.71) scale(1 1.025)" text-anchor="end">0.2</text>
<text class="tl" transform="translate(1025.9 609.7) scale(1 1.025)" text-anchor="middle">0</text>
<text class="tl" transform="translate(1139.14 609.7) scale(1 1.025)" text-anchor="middle">20</text>
<text class="tl" transform="translate(1252.38 609.7) scale(1 1.025)" text-anchor="middle">40</text>
<text class="tl" transform="translate(1365.62 609.7) scale(1 1.025)" text-anchor="middle">60</text>
<text class="tl" transform="translate(1478.86 609.7) scale(1 1.025)" text-anchor="middle">80</text>
<text class="tl" transform="translate(1592.1 609.7) scale(1 1.025)" text-anchor="middle">100</text>
<text class="tl" transform="translate(1705.34 609.7) scale(1 1.025)" text-anchor="middle">120</text>
<text class="ax" transform="translate(1410.7 640.7) scale(1 1.025)" text-anchor="middle">ETAR-AAs</text>
<text class="at" transform="translate(1410.7 671) scale(1 1.03)" text-anchor="middle">(U/mL)</text>
<text class="at" transform="translate(940 320.2) rotate(-90) scale(1 1.03)" text-anchor="middle">Risk of MACE</text>
<text class="at" transform="translate(970.4 320.2) rotate(-90) scale(1 1.03)" text-anchor="middle">(Hazard Ratio)</text>
<text class="tag" transform="translate(1020.2 30.9) scale(1 1.05)" text-anchor="start">B</text>
<text class="an" transform="translate(1138 140.1)" text-anchor="start">Excess</text>
<text class="an" transform="translate(1138 164.2)" text-anchor="start">MACE risk</text>
<text class="an" transform="translate(1138 188.1)" text-anchor="start">threshold</text>
<text class="an" transform="translate(1413 142.3)" text-anchor="middle">sustained MACE</text>
<text class="an" transform="translate(1413.8 166.4)" text-anchor="middle">risk increase</text>
</g>
</svg>
</body>
</html>
